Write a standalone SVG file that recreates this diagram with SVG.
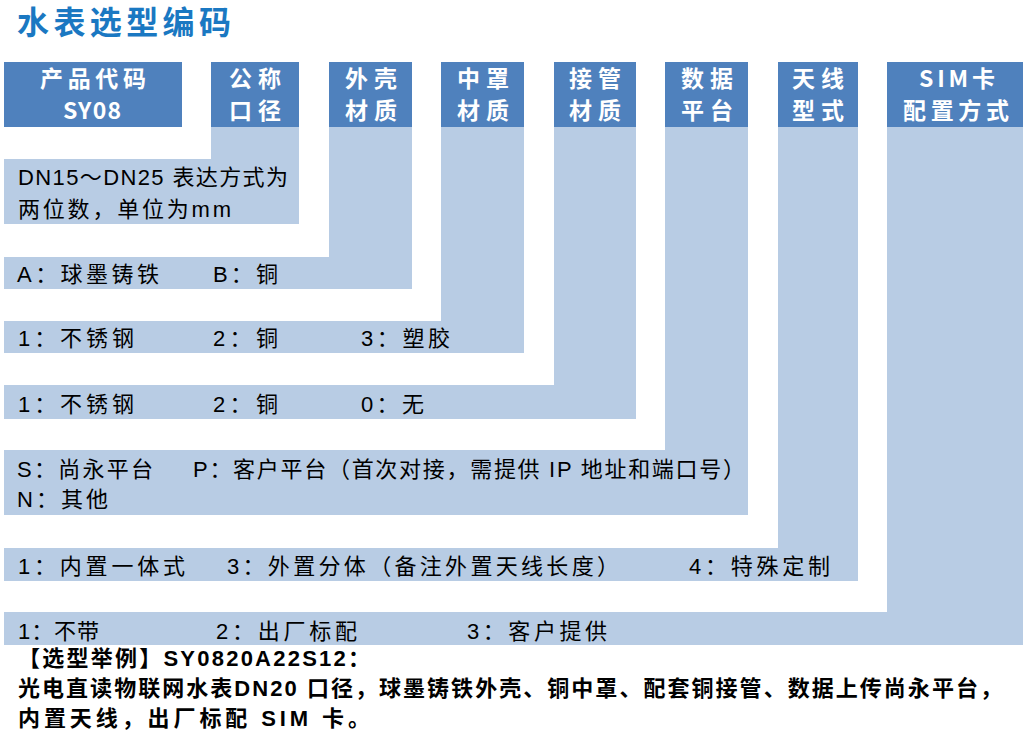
<svg xmlns="http://www.w3.org/2000/svg" width="1027" height="744" viewBox="0 0 1027 744">
<style>
.hd{fill:#4F81BD}
.lt{fill:#B8CCE4}
.ht{font-family:'Noto Sans CJK SC','Noto Sans',sans-serif;font-weight:700;font-size:23px;fill:#FFFFFF}
.bt{font-family:'Liberation Sans','Noto Sans CJK SC',sans-serif;font-size:22px;fill:#000000}
.ex{font-family:'Liberation Sans','Noto Sans CJK SC',sans-serif;font-weight:700;font-size:22px;fill:#000000}
.title{font-family:'Liberation Sans','Noto Sans CJK SC',sans-serif;font-weight:700;font-size:32px;fill:#1A78C2}
</style>
<rect width="1027" height="744" fill="#FFFFFF"/>
<text id="title" class="title" x="17" y="34" textLength="214">水表选型编码</text>

<g id="col-product-code">
<rect class="hd" x="4" y="62" width="178" height="65"/>
<text class="ht" x="40" y="87" textLength="106">产品代码</text>
<text class="ht" x="63" y="119" textLength="58">SY08</text>
</g>

<g id="col-nominal-diameter">
<rect class="hd" x="211" y="62" width="88" height="65"/>
<text class="ht" x="229" y="87" textLength="52">公称</text>
<text class="ht" x="229" y="119" textLength="52">口径</text>
<path class="lt" d="M211 127H299V224H4V159H211Z"/>
<text class="bt" x="18" y="185" textLength="270">DN15～DN25 表达方式为</text>
<text class="bt" x="18" y="217" textLength="213">两位数，单位为mm</text>
</g>

<g id="col-shell-material">
<rect class="hd" x="329" y="62" width="83" height="65"/>
<text class="ht" x="345" y="87" textLength="52">外壳</text>
<text class="ht" x="345" y="119" textLength="52">材质</text>
<path class="lt" d="M329 127H412V289H4V257H329Z"/>
<text class="bt" x="17" y="282" textLength="142">A：球墨铸铁</text>
<text class="bt" x="213" y="282" textLength="65">B：铜</text>
</g>

<g id="col-cover-material">
<rect class="hd" x="441" y="62" width="83" height="65"/>
<text class="ht" x="457" y="87" textLength="52">中罩</text>
<text class="ht" x="457" y="119" textLength="52">材质</text>
<path class="lt" d="M441 127H524V353H4V321H441Z"/>
<text class="bt" x="18" y="346" textLength="116">1：不锈钢</text>
<text class="bt" x="213" y="346" textLength="65">2：铜</text>
<text class="bt" x="361" y="346" textLength="89">3：塑胶</text>
</g>

<g id="col-pipe-material">
<rect class="hd" x="554" y="62" width="82" height="65"/>
<text class="ht" x="569" y="87" textLength="52">接管</text>
<text class="ht" x="569" y="119" textLength="52">材质</text>
<path class="lt" d="M554 127H636V419H4V385H554Z"/>
<text class="bt" x="18" y="412" textLength="116">1：不锈钢</text>
<text class="bt" x="213" y="412" textLength="65">2：铜</text>
<text class="bt" x="361" y="412" textLength="63">0：无</text>
</g>

<g id="col-data-platform">
<rect class="hd" x="665" y="62" width="83" height="65"/>
<text class="ht" x="681" y="87" textLength="52">数据</text>
<text class="ht" x="681" y="119" textLength="52">平台</text>
<path class="lt" d="M665 127H748V515H4V450H665Z"/>
<text class="bt" x="17" y="477" textLength="136">S：尚永平台</text>
<text class="bt" x="193" y="477" textLength="552">P：客户平台（首次对接，需提供 IP 地址和端口号）</text>
<text class="bt" x="17" y="507" textLength="91">N：其他</text>
</g>

<g id="col-antenna-type">
<rect class="hd" x="778" y="62" width="80" height="65"/>
<text class="ht" x="792" y="87" textLength="52">天线</text>
<text class="ht" x="792" y="119" textLength="52">型式</text>
<path class="lt" d="M778 127H858V581H4V548H778Z"/>
<text class="bt" x="18" y="574" textLength="167">1：内置一体式</text>
<text class="bt" x="227" y="574" textLength="392">3：外置分体（备注外置天线长度）</text>
<text class="bt" x="689" y="574" textLength="141">4：特殊定制</text>
</g>

<g id="col-sim-config">
<rect class="hd" x="887" y="62" width="136" height="65"/>
<text class="ht" x="919" y="87" textLength="76">SIM卡</text>
<text class="ht" x="903" y="119" textLength="106">配置方式</text>
<path class="lt" d="M887 127H1023V645H4V612H887Z"/>
<text class="bt" x="18" y="639" textLength="81">1：不带</text>
<text class="bt" x="216" y="639" textLength="141">2：出厂标配</text>
<text class="bt" x="467" y="639" textLength="140">3：客户提供</text>
</g>

<g id="connectors"></g>

<g id="example">
<text class="ex" x="18" y="666" textLength="352">【选型举例】SY0820A22S12：</text>
<text class="ex" x="18" y="696" textLength="984">光电直读物联网水表DN20 口径，球墨铸铁外壳、铜中罩、配套铜接管、数据上传尚永平台，</text>
<text class="ex" x="18" y="726" textLength="352">内置天线，出厂标配 SIM 卡。</text>
</g>
</svg>
